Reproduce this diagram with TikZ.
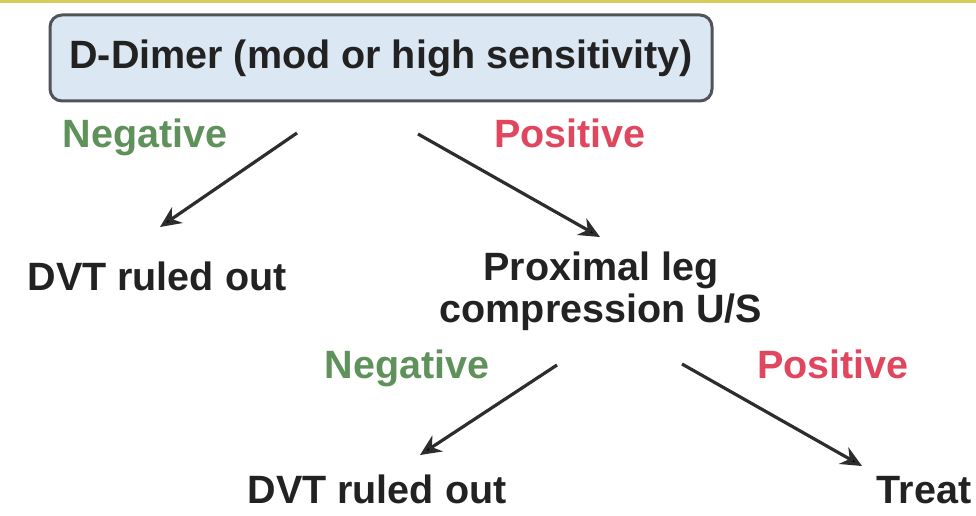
\documentclass[tikz,border=0pt]{standalone}
\usepackage{fontspec}
\setmainfont{Liberation Sans}
\usetikzlibrary{arrows.meta}
\definecolor{boxfill}{RGB}{220,231,244}
\definecolor{boxline}{RGB}{80,84,90}
\definecolor{txt}{RGB}{34,34,34}
\definecolor{neg}{RGB}{95,145,90}
\definecolor{pos}{RGB}{225,70,95}
\definecolor{arr}{RGB}{45,45,45}
\definecolor{topband}{RGB}{215,205,90}
\begin{document}
\begin{tikzpicture}[x=1pt,y=1pt,
  font=\fontsize{39.5}{42}\selectfont\bfseries,
  lab/.style={text=txt, inner sep=0pt, align=center},
  neglab/.style={text=neg, inner sep=0pt},
  poslab/.style={text=pos, inner sep=0pt},
  startbox/.style={draw=boxline, line width=3pt, fill=boxfill, rounded corners=12pt,
    minimum width=662pt, minimum height=86pt, text=txt, inner sep=0pt},
  flow/.style={draw=arr, line width=3.2pt, -{Stealth[length=21pt,width=19pt,fill=black]}}]
\useasboundingbox (0,0) rectangle (976,515);
\fill[white] (0,0) rectangle (976,515);
\fill[topband] (0,512) rectangle (976,515);

\node[startbox] (dd) at (381,457) {D-Dimer (mod or high sensitivity)};
\node[neglab, anchor=base] (n1) at (145,367) {Negative};
\node[poslab, anchor=base] (p1) at (570,367) {Positive};
\node[lab, anchor=base] (dvt1) at (157,225) {DVT ruled out};
\node[lab] (prox) at (601,224) {Proximal leg\\compression U/S};
\node[neglab, anchor=base] (n2) at (407,137) {Negative};
\node[poslab, anchor=base] (p2) at (833,137) {Positive};
\node[lab, anchor=base] (dvt2) at (377,12) {DVT ruled out};
\node[lab, anchor=base] (treat) at (924,12) {Treat};

\coordinate (a1s) at (297,382); \coordinate (a1e) at (160,288);
\coordinate (a2s) at (418,381); \coordinate (a2e) at (600,278);
\coordinate (a3s) at (557,150); \coordinate (a3e) at (420,60);
\coordinate (a4s) at (682,151); \coordinate (a4e) at (862,49);

\draw[flow] (a1s) -- (a1e);
\draw[flow] (a2s) -- (a2e);
\draw[flow] (a3s) -- (a3e);
\draw[flow] (a4s) -- (a4e);
\end{tikzpicture}
\end{document}
